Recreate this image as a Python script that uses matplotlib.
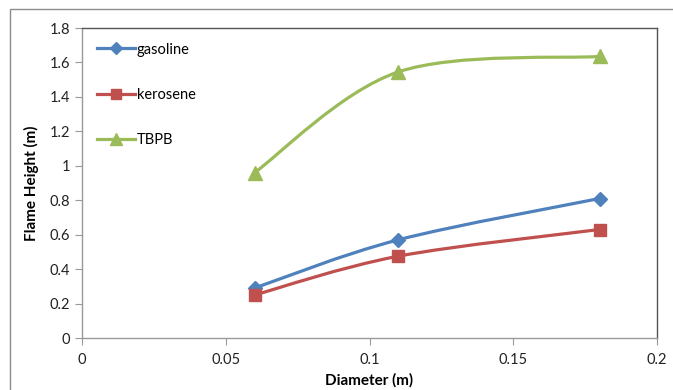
import numpy as np
import matplotlib
matplotlib.use("Agg")
import matplotlib.pyplot as plt
from matplotlib.path import Path
from matplotlib.patches import PathPatch, Rectangle
from matplotlib.lines import Line2D

diameter = [0.06, 0.11, 0.18]
gasoline = [0.29, 0.57, 0.81]
kerosene = [0.25, 0.475, 0.63]
tbpb = [0.96, 1.545, 1.635]
series_names = ["gasoline", "kerosene", "TBPB"]

colors = ["#4F81BD", "#C0504D", "#9BBB59"]
markers = ["D", "s", "^"]
msizes = [7, 9, 10]

plt.rcParams['font.family'] = ['Lato', 'DejaVu Sans']

fig = plt.figure(figsize=(6.73, 3.90), dpi=100)
ax = fig.add_axes([82/673, 1-338/390, (657-82)/673, (338-28)/390])

# outer chart border
fig.patches.append(Rectangle((10/673, -0.1), 1.2, 1-9/390+0.1, transform=fig.transFigure,
                             fill=False, edgecolor="#8c8c8c", lw=1.0))


def smooth_path(xs, ys, ax):
    # Catmull-Rom style bezier in display coords
    pts = ax.transData.transform(np.column_stack([xs, ys]))
    n = len(pts)
    verts = [pts[0]]
    codes = [Path.MOVETO]
    for i in range(n - 1):
        p0 = pts[i - 1] if i > 0 else pts[i]
        p1 = pts[i]
        p2 = pts[i + 1]
        p3 = pts[i + 2] if i + 2 < n else pts[i + 1]
        c1 = p1 + (p2 - p0) / 6.0
        c2 = p2 - (p3 - p1) / 6.0
        verts += [c1, c2, p2]
        codes += [Path.CURVE4] * 3
    return Path(verts, codes)


ax.set_xlim(0, 0.2)
ax.set_ylim(0, 1.8)

handles = []
for ys, c, m, ms, name in zip([gasoline, kerosene, tbpb], colors, markers, msizes, series_names):
    p = smooth_path(diameter, ys, ax)
    patch = PathPatch(p, transform=None, fill=False, edgecolor=c, lw=2.3, zorder=3)
    ax.add_artist(patch)
    ax.plot(diameter, ys, linestyle="none", marker=m, color=c, markersize=ms, zorder=4)
    handles.append(Line2D([], [], color=c, lw=2.3, marker=m, markersize=ms * 0.85))

ax.set_xticks([0, 0.05, 0.1, 0.15, 0.2])
ax.set_xticklabels(["0", "0.05", "0.1", "0.15", "0.2"])
ax.set_yticks([0, 0.2, 0.4, 0.6, 0.8, 1.0, 1.2, 1.4, 1.6, 1.8])
ax.set_yticklabels(["0", "0.2", "0.4", "0.6", "0.8", "1", "1.2", "1.4", "1.6", "1.8"])
ax.tick_params(axis="both", labelsize=10.5, colors="#222222", length=5, width=0.8)
ax.tick_params(axis="both", color="#999999")
ax.tick_params(axis="x", pad=6)

for s in ["left", "bottom"]:
    ax.spines[s].set_color("#999999")
for s in ["top", "right"]:
    ax.spines[s].set_color("#555555")
for s in ax.spines.values():
    s.set_linewidth(1.0)

ax.set_xlabel("Diameter (m)", fontsize=11, fontweight="bold")
ax.set_ylabel("Flame Height (m)", fontsize=11, fontweight="bold")
ax.xaxis.set_label_coords(0.5, -0.112)
ax.yaxis.set_label_coords(-0.074, 0.5)

leg = ax.legend(handles, series_names, loc="upper left", bbox_to_anchor=(0.0, 1.0),
                frameon=False, fontsize=10.5, labelspacing=2.15, handlelength=2.6,
                handletextpad=0.15, borderaxespad=0.6)

fig.savefig("out.png", dpi=100)
